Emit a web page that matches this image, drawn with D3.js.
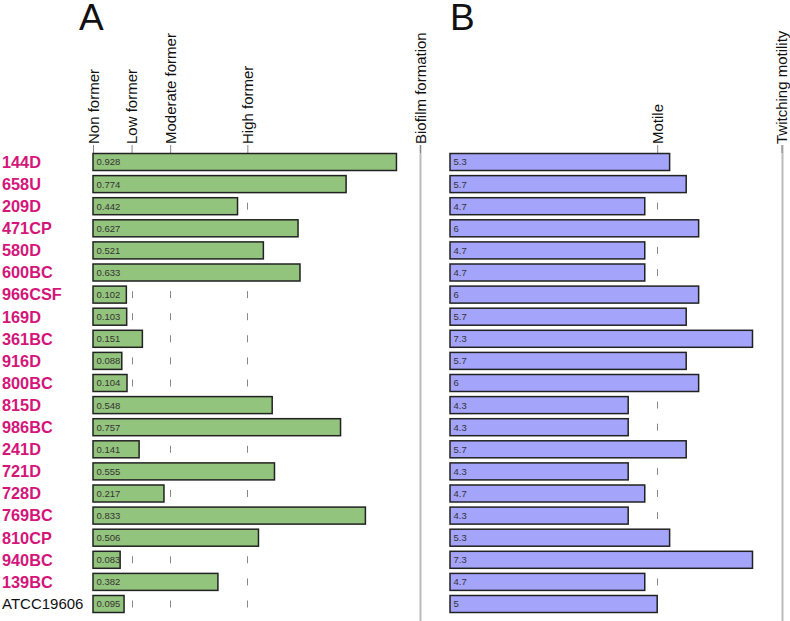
<!DOCTYPE html>
<html>
<head>
<meta charset="utf-8">
<script src="https://cdn.jsdelivr.net/npm/d3@7"></script>
<style>
  body { margin: 0; background: #fff; }
  svg text { font-family: "Liberation Sans", Arial, sans-serif; }
</style>
</head>
<body>
<div class="chart"></div>
<script>
// declare global values
const WIDTH = 790;
const HEIGHT = 621;

// strains, top to bottom
const strains = ["144D", "658U", "209D", "471CP", "580D", "600BC", "966CSF", "169D",
  "361BC", "916D", "800BC", "815D", "986BC", "241D", "721D", "728D", "769BC",
  "810CP", "940BC", "139BC", "ATCC19606"];

// panel A: biofilm formation (OD)
const biofilm = [0.928, 0.774, 0.442, 0.627, 0.521, 0.633, 0.102, 0.103, 0.151,
  0.088, 0.104, 0.548, 0.757, 0.141, 0.555, 0.217, 0.833, 0.506, 0.083, 0.382, 0.095];

// panel B: twitching motility
const twitching = [5.3, 5.7, 4.7, 6, 4.7, 4.7, 6, 5.7, 7.3, 5.7, 6, 4.3, 4.3, 5.7,
  4.3, 4.7, 4.3, 5.3, 7.3, 4.7, 5];

// category thresholds
const biofilmTicks = [0, 0.118, 0.236, 0.472, 1];
const biofilmTickLabels = ["Non former", "Low former", "Moderate former", "High former", "Biofilm formation"];
const motilityTicks = [5, 8];
const motilityTickLabels = ["Motile", "Twitching motility"];

const reference = "ATCC19606";

var svg = d3
  .select(".chart")
  .append("svg")
  .attr("width", WIDTH)
  .attr("height", HEIGHT);

// row centres
var y = d3.scalePoint().domain(strains).range([162, 604]);
const BAR_H = 17;
const AXIS_Y = 153;
const STEP = y.step();

var xA = d3.scaleLinear().domain([0, 1]).range([93, 420]);
var xB = d3.scaleLinear().domain([0, 8]).range([450, 781.5]);

// row labels
svg
  .append("g")
  .selectAll("text")
  .data(strains)
  .join("text")
  .attr("x", 2)
  .attr("y", (d) => y(d))
  .attr("dy", "0.36em")
  .attr("font-size", (d) => (d === reference ? "15px" : "16.3px"))
  .attr("font-weight", (d) => (d === reference ? "normal" : "bold"))
  .attr("fill", (d) => (d === reference ? "#111" : "#d4157a"))
  .text((d) => d);

const DRAWPANEL = (x, values, ticks, labels, fill, fmt, dashed, letter, letterX) => {
  var g = svg.append("g");

  // gridlines (dashes sit on the row centres)
  const dash = 7;
  g.append("g")
    .selectAll("line")
    .data(ticks)
    .join("line")
    .attr("x1", (d) => Math.round(x(d)) + 0.5)
    .attr("x2", (d) => Math.round(x(d)) + 0.5)
    .attr("y1", (d, i) => (i === ticks.length - 1 ? AXIS_Y - 8 : AXIS_Y))
    .attr("y2", HEIGHT)
    .attr("stroke", (d, i) => (i === ticks.length - 1 ? "#bbb" : "#888"))
    .attr("stroke-width", (d, i) => (i === ticks.length - 1 ? 2 : 1))
    .attr("stroke-dasharray", (d, i) =>
      i === ticks.length - 1 || !dashed[i] ? null : `${dash},${STEP - dash}`
    )
    .attr("stroke-dashoffset", STEP - ((y(strains[0]) - dash / 2 - AXIS_Y) % STEP));

  // top axis with category labels
  g.append("g")
    .attr("transform", `translate(0,${AXIS_Y})`)
    .call(
      d3.axisTop(x)
        .tickValues(ticks)
        .tickSize(8)
        .tickFormat((d, i) => labels[i])
    )
    .call((a) => a.select(".domain").remove())
    .call((a) => a.selectAll(".tick line").attr("stroke", "#888"))
    .call((a) =>
      a.selectAll(".tick text")
        .attr("transform", "rotate(-90)")
        .attr("x", 9)
        .attr("y", 0)
        .attr("dy", "0.36em")
        .attr("text-anchor", "start")
        .attr("font-size", "15px")
        .attr("font-family", "Liberation Sans, Arial, sans-serif")
        .attr("fill", "#111")
    );

  // bars
  g.append("g")
    .selectAll("rect")
    .data(values)
    .join("rect")
    .attr("x", x(0))
    .attr("y", (d, i) => y(strains[i]) - BAR_H / 2)
    .attr("width", (d) => x(d) - x(0))
    .attr("height", BAR_H)
    .attr("fill", fill)
    .attr("stroke", "#222")
    .attr("stroke-width", 1.5);

  // value labels
  g.append("g")
    .selectAll("text")
    .data(values)
    .join("text")
    .attr("x", x(0) + 3.5)
    .attr("y", (d, i) => y(strains[i]))
    .attr("dy", "0.36em")
    .attr("font-size", "9.5px")
    .attr("fill", "#333")
    .text(fmt);

  // panel letter
  svg
    .append("text")
    .attr("x", letterX)
    .attr("y", 30)
    .attr("font-size", "37px")
    .attr("fill", "#111")
    .text(letter);
};

DRAWPANEL(xA, biofilm, biofilmTicks, biofilmTickLabels, "#93c47d",
  (d) => d.toFixed(3), [true, true, true, true, false], "A", 79);
DRAWPANEL(xB, twitching, motilityTicks, motilityTickLabels, "#a4a4fb",
  (d) => String(d), [true, false], "B", 450);
</script>
</body>
</html>
